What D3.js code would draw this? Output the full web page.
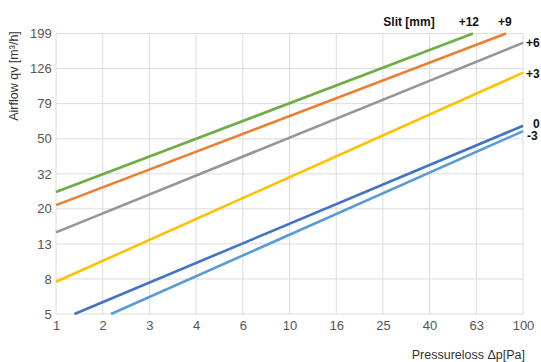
<!DOCTYPE html>
<html>
<head>
<meta charset="utf-8">
<script src="https://cdn.jsdelivr.net/npm/d3@7"></script>
<style>
  html, body { margin: 0; padding: 0; background: #fff; }
  #chart { width: 541px; height: 362px; }
  text { font-family: "Liberation Sans", Arial, sans-serif; }
</style>
</head>
<body>
<div id="chart"></div>
<script>
// pressure loss ticks (log, 10^0.2 steps) and their printed labels
const xTicks = [1, 1.585, 2.512, 3.981, 6.31, 10, 15.85, 25.12, 39.81, 63.1, 100];
const xTickLabels = ['1', '2', '3', '4', '6', '10', '16', '25', '40', '63', '100'];
const yTicks = [5, 7.92, 12.56, 19.9, 31.5, 49.9, 79.2, 125.6, 199];
const yTickLabels = ['5', '8', '13', '20', '32', '50', '79', '126', '199'];

// slit series: [pressure loss Pa, airflow m3/h]
const slits = ['+12', '+9', '+6', '+3', '0', '-3'];
const colors = ['#70ad47', '#ed7d31', '#969696', '#ffc000', '#4472c4', '#5b9bd5'];
const serPlus12 = [[1, 24.8], [61, 199]];
const serPlus9 = [[1, 20.9], [84.5, 199]];
const serPlus6 = [[1, 14.6], [100, 176]];
const serPlus3 = [[1, 7.64], [100, 119]];
const serZero = [[1.2, 5], [100, 59.2]];
const serMinus3 = [[1.72, 5], [100, 55.2]];
const series = [serPlus12, serPlus9, serPlus6, serPlus3, serZero, serMinus3];

const width = 541, height = 362;
const margin = { top: 33.5, right: 18, bottom: 48, left: 56 };

const svg = d3.select('#chart').append('svg')
  .attr('width', width)
  .attr('height', height);

const x = d3.scaleLog()
  .domain([1, 100])
  .range([margin.left, width - margin.right]);

const y = d3.scaleLog()
  .domain([5, 199])
  .range([height - margin.bottom, margin.top]);

// grid
svg.append('g')
  .selectAll('line')
  .data(xTicks)
  .join('line')
  .attr('x1', d => x(d)).attr('x2', d => x(d))
  .attr('y1', y(5)).attr('y2', y(199))
  .attr('stroke', '#dcdcdc')
  .attr('stroke-width', 1);

svg.append('g')
  .selectAll('line')
  .data(yTicks)
  .join('line')
  .attr('x1', x(1)).attr('x2', x(100))
  .attr('y1', d => y(d)).attr('y2', d => y(d))
  .attr('stroke', '#dcdcdc')
  .attr('stroke-width', 1);

// axes (labels only)
const xAxis = svg.append('g')
  .attr('transform', `translate(0,${y(5)})`)
  .call(d3.axisBottom(x).tickValues(xTicks).tickSize(0)
    .tickFormat((d, i) => xTickLabels[i]));
xAxis.select('.domain').remove();
xAxis.selectAll('text')
  .attr('fill', '#555')
  .attr('font-size', '13px')
  .attr('dy', '1.0em');

const yAxis = svg.append('g')
  .attr('transform', `translate(${x(1)},0)`)
  .call(d3.axisLeft(y).tickValues(yTicks).tickSize(0)
    .tickFormat((d, i) => yTickLabels[i]));
yAxis.select('.domain').remove();
yAxis.selectAll('text')
  .attr('fill', '#555')
  .attr('font-size', '13px')
  .attr('dx', '-0.1em');

// lines
const line = d3.line()
  .x(d => x(d[0]))
  .y(d => y(d[1]));

svg.append('g')
  .selectAll('path')
  .data(series)
  .join('path')
  .attr('d', line)
  .attr('fill', 'none')
  .attr('stroke', (d, i) => colors[i])
  .attr('stroke-width', 2.6);

// series labels
const labelPos = [
  { dx: -4, dy: -8, anchor: 'middle' },
  { dx: -1, dy: -8, anchor: 'middle' },
  { dx: 3, dy: 4, anchor: 'start' },
  { dx: 3, dy: 5, anchor: 'start' },
  { dx: 10, dy: 2, anchor: 'start' },
  { dx: 4, dy: 9, anchor: 'start' }
];
svg.append('g')
  .selectAll('text')
  .data(series)
  .join('text')
  .attr('x', (d, i) => x(d[d.length - 1][0]) + labelPos[i].dx)
  .attr('y', (d, i) => y(d[d.length - 1][1]) + labelPos[i].dy)
  .attr('text-anchor', (d, i) => labelPos[i].anchor)
  .attr('font-size', '12px')
  .attr('font-weight', 'bold')
  .attr('fill', '#111')
  .text((d, i) => slits[i]);

svg.append('text')
  .attr('x', 409)
  .attr('y', 26)
  .attr('text-anchor', 'middle')
  .attr('font-size', '12px')
  .attr('font-weight', 'bold')
  .attr('fill', '#111')
  .text('Slit [mm]');

// axis titles
svg.append('text')
  .attr('x', x(100) + 2)
  .attr('y', 359)
  .attr('text-anchor', 'end')
  .attr('font-size', '12.5px')
  .attr('fill', '#333')
  .text('Pressureloss \u0394p[Pa]');

svg.append('text')
  .attr('transform', 'translate(18,76) rotate(-90)')
  .attr('text-anchor', 'middle')
  .attr('font-size', '12.5px')
  .attr('fill', '#333')
  .text('Airflow qv [m\u00b3/h]');
</script>
</body>
</html>
